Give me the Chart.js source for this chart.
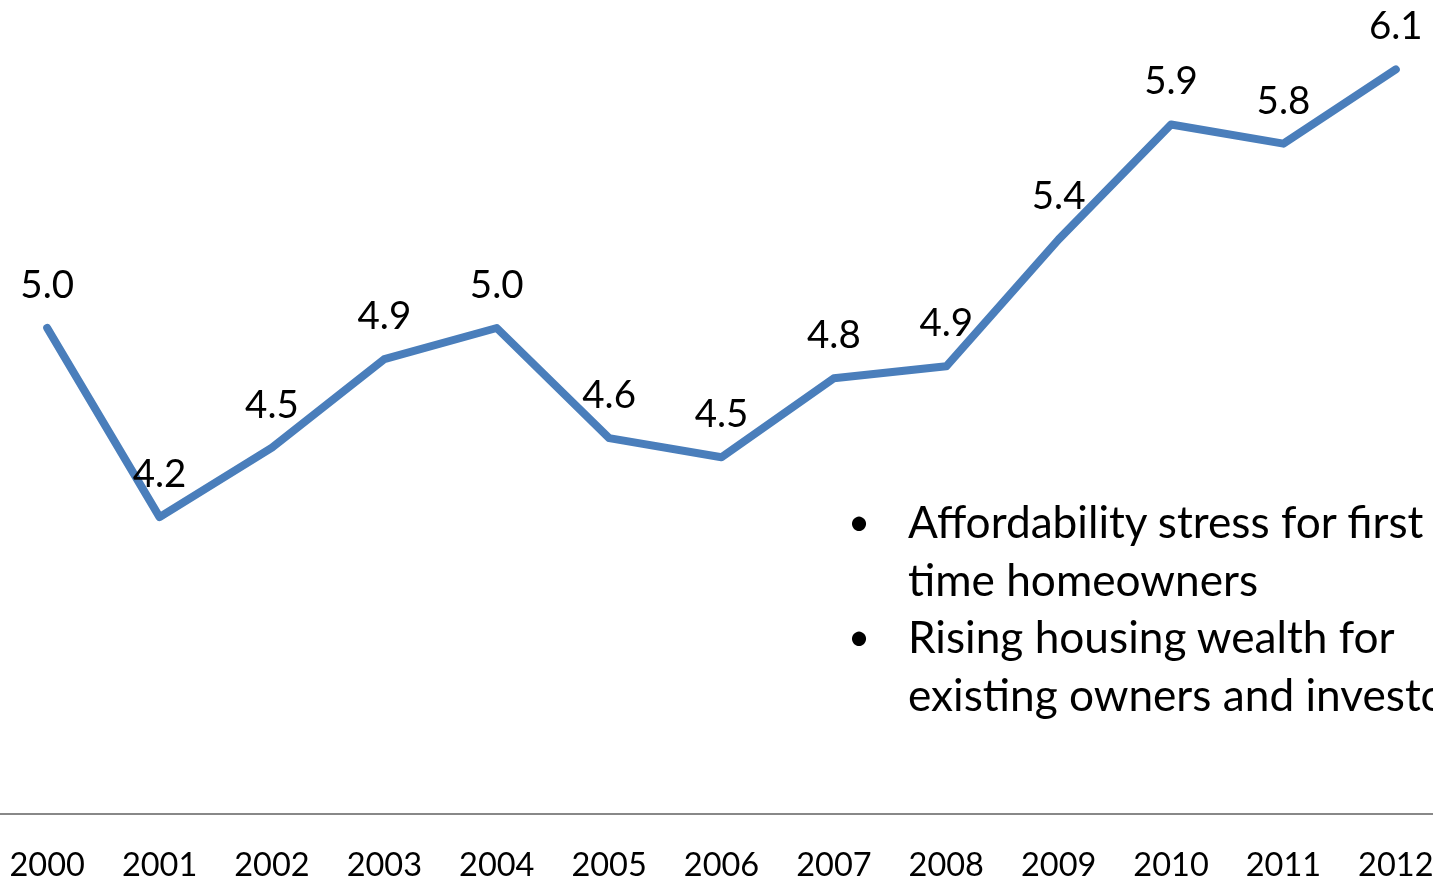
<!DOCTYPE html>
<html>
<head>
<meta charset="utf-8">
<style>
  html, body { margin: 0; padding: 0; width: 1433px; height: 878px; overflow: hidden; background: #fff; }
  #myChart { position: absolute; left: -9px; top: 0; }
  #notes { position: absolute; left: 908px; top: 492px; font-family: Lato, sans-serif; font-size: 44.2px;
           line-height: 57.7px; color: #000; white-space: nowrap; }
  #notes div { position: relative; }
  #notes div span { position: absolute; left: -60px; font-size: 38px; }
</style>
</head>
<body>
<canvas id="myChart" width="1461" height="918"></canvas>
<div id="notes">
  <div><span>•</span>Affordability stress for first<br>time homeowners</div>
  <div><span>•</span>Rising housing wealth for<br>existing owners and investors</div>
</div>

  <script src="https://cdn.jsdelivr.net/npm/chart.js"></script>

  <script>
    var years = ["2000", "2001", "2002", "2003", "2004", "2005", "2006", "2007", "2008", "2009", "2010", "2011", "2012"]
    var ratio = [5.03, 4.24, 4.53, 4.90, 5.03, 4.57, 4.49, 4.82, 4.87, 5.40, 5.88, 5.80, 6.11]

    // value labels above each point
    var valueLabels = {
      id: 'value-labels',
      afterDatasetsDraw(chart) {
        let ctx = chart.ctx
        let meta = chart.getDatasetMeta(0)
        ctx.save()
        ctx.font = '38.5px Lato'
        ctx.fillStyle = '#000'
        ctx.textAlign = 'center'
        ctx.textBaseline = 'alphabetic'
        meta.data.forEach((pt, i) => {
          ctx.fillText(ratio[i].toFixed(1), pt.x, pt.y - 30)
        })
        ctx.restore()
      }
    }

    const ctx = document.getElementById('myChart');

    new Chart(ctx, {
      type: 'line',
      data: {
        labels: years,
        datasets: [{
          label: 'Ratio',
          data: ratio,
          borderColor: '#4a7ebb',
          borderWidth: 8,
          borderCapStyle: 'round',
          borderJoinStyle: 'round',
          pointRadius: 0,
          tension: 0,
          clip: false
        }]
      },
      plugins: [valueLabels],
      options: {
        responsive: false,
        animation: false,
        events: [],
        layout: { padding: 0, autoPadding: false },
        plugins: {
          legend: { display: false },
          tooltip: { enabled: false }
        },
        scales: {
          x: {
            offset: true,
            grid: { display: false, drawTicks: false },
            border: { display: true, color: '#888888', width: 2 },
            ticks: {
              color: '#000',
              padding: 32.5,
              maxRotation: 0,
              autoSkip: false,
              font: { family: 'Lato', size: 32.5 }
            },
            // no side padding for the end labels, the axis runs edge to edge
            afterFit: (scale) => {
              scale.paddingLeft = 0
              scale.paddingRight = 0
            }
          },
          y: {
            display: false,
            min: 3,
            max: 6.4
          }
        }
      }
    });
  </script>
</body>
</html>
